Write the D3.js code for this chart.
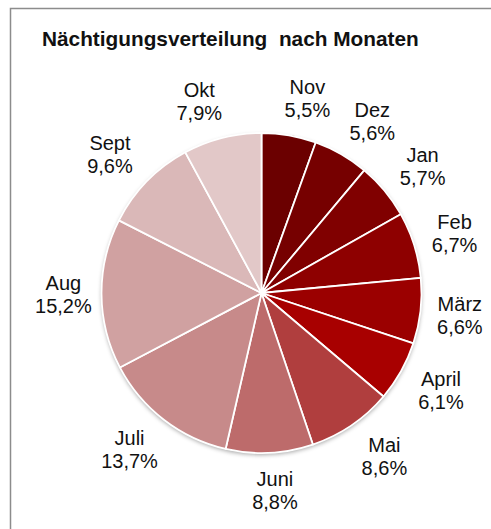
<!DOCTYPE html>
<html>
<head>
    <meta charset="utf-8">
    <title>Nächtigungsverteilung nach Monaten</title>
    <script src="https://d3js.org/d3.v7.min.js"></script>
    <style>
        body { margin: 0; background: #fff; }
        text { font-family: "Liberation Sans", Arial, sans-serif; fill: #111; }
    </style>
</head>
<body>
    <svg class="pieChart" width="491" height="529"></svg>

    <script>
        // Daten
        const monate = ['Nov', 'Dez', 'Jan', 'Feb', 'März', 'April', 'Mai', 'Juni', 'Juli', 'Aug', 'Sept', 'Okt'];
        const anteile = [5.5, 5.6, 5.7, 6.7, 6.6, 6.1, 8.6, 8.8, 13.7, 15.2, 9.6, 7.9];
        const farben = ['#6b0000', '#760000', '#800000', '#8e0000', '#9b0000', '#a80000',
                        '#b03e3e', '#bd6b6b', '#c78a8a', '#d0a1a1', '#dab8b8', '#e2c8c8'];

        function plotarGrafico() {
            const svg = d3.select('.pieChart');
            const cx = 261.5, cy = 293, radius = 160;

            // Rahmen
            svg.append('path')
                .attr('d', 'M10.5,529 L10.5,8.5 L491,8.5')
                .attr('fill', 'none')
                .attr('stroke', '#8c8c8c')
                .attr('stroke-width', 1.5);

            // Titel
            svg.append('text')
                .attr('x', 42)
                .attr('y', 45.5)
                .style('font-size', '20.8px')
                .style('font-weight', 'bold')
                .style('white-space', 'pre')
                .text('Nächtigungsverteilung  nach Monaten');

            const defs = svg.append('defs');
            const filter = defs.append('filter').attr('id', 'schatten')
                .attr('x', '-10%').attr('y', '-10%').attr('width', '120%').attr('height', '120%');
            filter.append('feDropShadow')
                .attr('dx', 0).attr('dy', 2).attr('stdDeviation', 2)
                .attr('flood-color', '#000').attr('flood-opacity', 0.35);

            const data = monate.map((m, i) => ({ monat: m, wert: anteile[i], farbe: farben[i] }));

            const pie = d3.pie().sort(null).value(d => d.wert);
            const arc = d3.arc().innerRadius(0).outerRadius(radius);
            const arcs = pie(data);

            const g = svg.append('g').attr('transform', `translate(${cx},${cy})`);

            g.append('circle').attr('r', radius).attr('fill', '#fff').attr('filter', 'url(#schatten)');

            g.selectAll('.slice')
                .data(arcs)
                .enter().append('path')
                .attr('class', 'slice')
                .attr('d', arc)
                .attr('fill', d => d.data.farbe)
                .attr('stroke', '#fff')
                .attr('stroke-width', 1.8)
                .attr('stroke-linejoin', 'round');

            // Beschriftungen
            const fmt = v => v.toFixed(1).replace('.', ',') + '%';
            const fontSize = 20, lineH = 23, labelR = radius + 38;

            const labels = g.selectAll('.label')
                .data(arcs)
                .enter().append('text')
                .attr('class', 'label')
                .attr('text-anchor', 'middle')
                .style('font-size', fontSize + 'px');

            labels.append('tspan').attr('x', 0).attr('dy', 0).text(d => d.data.monat);
            labels.append('tspan').attr('x', 0).attr('dy', lineH).text(d => fmt(d.data.wert));

            labels.attr('transform', d => {
                const a = (d.startAngle + d.endAngle) / 2;
                const s = Math.sin(a), c = -Math.cos(a);
                const extra = Math.sign(s) * 14 * Math.min(1, 5 * Math.abs(s)) * Math.abs(c);
                const mx = labelR * s + extra;
                const my = labelR * c;
                // Mitte zwischen Versalhöhe Zeile 1 und Grundlinie Zeile 2
                const base = my - (lineH - 0.716 * fontSize) / 2;
                return `translate(${mx},${base})`;
            });
        }

        plotarGrafico();
    </script>
</body>
</html>
